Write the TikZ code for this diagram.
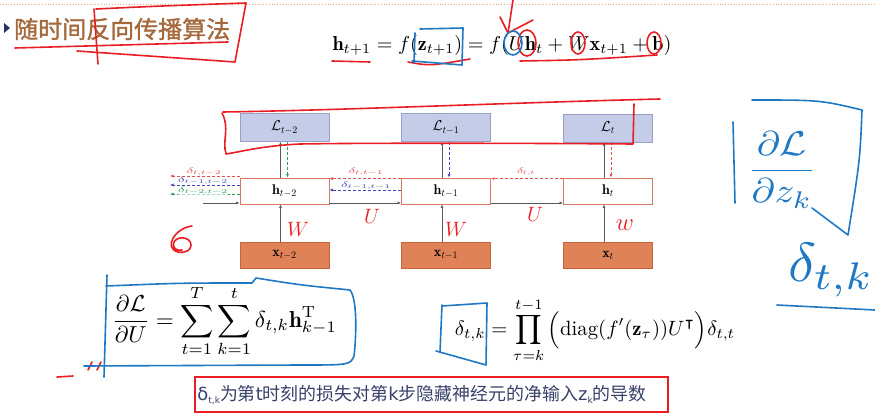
\documentclass[tikz,border=0pt]{standalone}
\usepackage{amsmath,amssymb,graphicx}
\usepackage{fontspec}
\newfontfamily\cjk{Noto Sans CJK SC}
\newfontfamily\cjkb[FakeBold=1.3]{Noto Sans CJK SC}
\newfontfamily\dejavu{DejaVu Sans}
\usetikzlibrary{arrows.meta,calc}
\definecolor{Lfill}{RGB}{196,204,232}
\definecolor{Lborder}{RGB}{150,160,200}
\definecolor{hborder}{RGB}{214,120,100}
\definecolor{xfill}{RGB}{224,130,88}
\definecolor{xborder}{RGB}{200,100,60}
\definecolor{dred}{RGB}{228,80,80}
\definecolor{dblue}{RGB}{70,70,180}
\definecolor{dgreen}{RGB}{40,160,90}
\definecolor{hred}{RGB}{232,30,36}
\definecolor{hblue}{RGB}{30,120,195}
\definecolor{titlecol}{RGB}{165,105,60}
\definecolor{textcol}{RGB}{55,65,105}
\definecolor{navy}{RGB}{40,50,100}
\definecolor{dotcol}{RGB}{235,170,130}
\newcommand\mydl[2]{\resizebox*{#1}{8pt}{$#2$}}
\begin{document}
\begin{tikzpicture}[x=1pt,y=-1pt,
  lbox/.style={draw=Lborder,fill=Lfill,minimum width=89pt,minimum height=28pt,inner sep=0pt,font=\fontsize{14}{15}\selectfont},
  hbox/.style={draw=hborder,fill=white,line width=0.9pt,minimum width=89pt,minimum height=26pt,inner sep=0pt,font=\fontsize{14}{15}\selectfont},
  xbox/.style={draw=xborder,fill=xfill,minimum width=89pt,minimum height=26pt,inner sep=0pt,font=\fontsize{14}{15}\selectfont},
  solidarr/.style={draw=black!65,line width=0.6pt,-{Latex[length=3.5pt,width=3pt]}},
  dasharr/.style={line width=0.6pt,dash pattern=on 3pt off 2pt,-{Latex[length=3.5pt,width=3pt]}},
  dlab/.style={inner sep=0pt,fill=white,fill opacity=0.6,text opacity=1},
  hand/.style={draw=hred,line width=1.6pt,line cap=round,line join=round},
  bhand/.style={draw=hblue,line width=1.6pt,line cap=round,line join=round},
  hw/.style={inner sep=0pt}]
\useasboundingbox (0,0) rectangle (875,417);
% top dotted rule
\draw[dotcol,line width=0.8pt,dotted] (0,4) -- (875,4);
% bullet and title
\fill[navy] (4,23) -- (10,28) -- (4,33) -- cycle;
\node[anchor=west,inner sep=0pt,text=titlecol] (title) at (14,29) {\cjkb\fontsize{24}{25}\selectfont 随时间反向传播算法};
% top equation
\node[inner sep=0pt] (eq) at (502,45) {\resizebox{339pt}{!}{$\mathbf{h}_{t+1} = f(\mathbf{z}_{t+1}) = f(U\mathbf{h}_t + W\mathbf{x}_{t+1} + \mathbf{b})$}};
% boxes
\node[lbox] (L2) at (284.5,127.5) {$\mathcal{L}_{t-2}$};
\node[lbox] (L1) at (446,127.5) {$\mathcal{L}_{t-1}$};
\node[lbox] (L0) at (608,128) {$\mathcal{L}_{t}$};
\node[hbox] (h2) at (284.5,191) {$\mathbf{h}_{t-2}$};
\node[hbox] (h1) at (446,191) {$\mathbf{h}_{t-1}$};
\node[hbox] (h0) at (608,191) {$\mathbf{h}_{t}$};
\node[xbox] (x2) at (284.5,255) {$\mathbf{x}_{t-2}$};
\node[xbox] (x1) at (446,255) {$\mathbf{x}_{t-1}$};
\node[xbox] (x0) at (608,255) {$\mathbf{x}_{t}$};
% vertical solid arrows
\foreach \c in {0,1,2}{
  \draw[solidarr] ([xshift=-4pt]x\c.north) -- ([xshift=-4pt]h\c.south);
  \draw[solidarr] ([xshift=-4pt]h\c.north) -- ([xshift=-4pt]L\c.south);
}
% vertical dashed arrows
\draw[dasharr,dgreen] ([xshift=3pt]L2.south) -- ([xshift=3pt]h2.north);
\draw[dasharr,dblue] ([xshift=3pt]L1.south) -- ([xshift=3pt]h1.north);
\draw[dasharr,dred] ([xshift=3pt]L0.south) -- ([xshift=3pt]h0.north);
% horizontal recurrent arrows
\coordinate (hin) at (203,203);
\draw[solidarr] (hin) -- (h2.west |- hin);
\draw[solidarr] ([yshift=1.5pt]h2.south east) -- ([yshift=1.5pt]h1.south west);
\draw[solidarr] ([yshift=1.5pt]h1.south east) -- ([yshift=1.5pt]h0.south west);
% delta dashed arrows between boxes
\draw[dasharr,dred] ([yshift=-1pt]h0.north west) -- ([yshift=-1pt]h1.north east);
\node[dlab,text=dred] (lbtt) at (526,172) {\mydl{18pt}{\delta_{t,t}}};
\draw[dasharr,dred] ([yshift=-1pt]h1.north west) -- ([yshift=-1pt]h2.north east);
\node[dlab,text=dred] (lbtt1) at (366,172) {\mydl{35pt}{\delta_{t,t-1}}};
\coordinate (bl1) at (360,190);
\draw[dasharr,dblue] (h1.west |- bl1) -- (h2.east |- bl1);
\node[dlab,text=dblue] (lbt1t1) at (366,186) {\mydl{50pt}{\delta_{t-1,t-1}}};
% left deltas
\coordinate (dl1) at (170,176);
\coordinate (dl2) at (170,185);
\coordinate (dl3) at (170,194);
\draw[dasharr,dred] (h2.west |- dl1) -- (dl1);
\draw[dasharr,dblue] (h2.west |- dl2) -- (dl2);
\draw[dasharr,dgreen] (h2.west |- dl3) -- (dl3);
\node[dlab,text=dred] (lbl1) at (204,172) {\mydl{35pt}{\delta_{t,t-2}}};
\node[dlab,text=dblue] (lbl2) at (203,181) {\mydl{50pt}{\delta_{t-1,t-2}}};
\node[dlab,text=dgreen] (lbl3) at (203,190.5) {\mydl{50pt}{\delta_{t-2,t-2}}};
% bottom formulas
\node[inner sep=0pt] (f1) at (224.5,321) {\resizebox{225pt}{!}{$\displaystyle \frac{\partial\mathcal{L}}{\partial U} = \sum_{t=1}^{T}\sum_{k=1}^{t}\delta_{t,k}\mathbf{h}_{k-1}^{\mathrm{T}}$}};
\node[inner sep=0pt] (f2) at (595,330) {\resizebox{280pt}{!}{$\displaystyle \delta_{t,k} = \prod_{\tau=k}^{t-1}\Big(\mathrm{diag}(f'(\mathbf{z}_\tau))U^{\intercal}\Big)\delta_{t,t}$}};
% bottom note
\node[draw=hred,line width=1.5pt,minimum width=473pt,minimum height=35pt,inner sep=0pt] (notebox) at (431.5,394.5) {};
\node[inner sep=0pt,text=textcol] (note) at (422,395) {\resizebox{449pt}{!}{{\dejavu δ}\raisebox{-2pt}{\dejavu\tiny t,k}{\cjk 为第}{\dejavu t}{\cjk 时刻的损失对第}{\dejavu k}{\cjk 步隐藏神经元的净输入}{\dejavu z}\raisebox{-2pt}{\dejavu\tiny k}{\cjk 的导数}}};
% ---- red handwriting ----
\draw[hand] (15,48) -- (228,42);
\draw[hand] (94,9) -- (98,64);
\draw[hand] (96,9) .. controls (160,6) .. (246,3) -- (235,62) -- (77,51);
\draw[hand] (332,61) -- (370,62);
\draw[hand] (408,62) .. controls (430,66) .. (470,59);
\draw[hand] (513,0) -- (508,33);
\draw[hand] (500,17) -- (508,33) -- (533,20);
\draw[hand] (527,43) ellipse (9pt and 13pt);
\draw[hand] (578,43) ellipse (7pt and 11pt);
\draw[hand] (654,43) ellipse (7pt and 11pt);
\draw[hand] (520,61) .. controls (580,60) .. (657,55);
\draw[hand] (223,112) .. controls (350,110) and (500,103) .. (660,99);
\draw[hand] (634,104) -- (633,144) .. controls (500,143) and (350,143) .. (300,144) .. controls (260,146) and (240,152) .. (226,154) .. controls (222,140) and (230,128) .. (222,113);
\draw[hand] (192,226) .. controls (175,228) and (163,248) .. (178,252) .. controls (195,255) and (195,236) .. (180,238) .. controls (170,240) and (172,252) .. (182,250);
\node[hw,text=hred] (w2) at (298,229) {\fontsize{22}{22}\selectfont$W$};
\node[hw,text=hred] (w1) at (456,229) {\fontsize{22}{22}\selectfont$W$};
\node[hw,text=hred] (w0) at (625,225) {\fontsize{24}{24}\selectfont$w$};
\node[hw,text=hred] (u1) at (372,216) {\fontsize{22}{22}\selectfont$U$};
\node[hw,text=hred] (u0) at (535,214) {\fontsize{22}{22}\selectfont$U$};
\draw[hand] (57,377) -- (73,376);
\draw[hand] (88,370) -- (92,362);
\draw[hand] (97,370) -- (101,362);
% ---- blue handwriting ----
\draw[bhand] (415,33) -- (414,63);
\draw[bhand] (420,29) -- (463,28) -- (462,65) -- (412,61);
\draw[bhand] (513,43) ellipse (9pt and 12pt);
\draw[bhand] (107,275) -- (104,377);
\draw[bhand] (106,286) .. controls (180,283) .. (252,283) -- (256,278) .. controls (300,285) .. (350,290) .. controls (358,300) and (356,340) .. (354,356) .. controls (350,365) .. (300,365) -- (84,366);
\draw[bhand] (442,305) -- (440,352);
\draw[bhand] (442,306) -- (487,303) -- (486,365) -- (436,351);
\draw[bhand] (752,100) .. controls (820,100) .. (862,110) .. controls (860,160) .. (848,235) -- (812,208);
\draw[bhand] (733,122) -- (735,203);
\node[hw,text=hblue] (frac) at (782,170) {\resizebox*{70pt}{76pt}{$\dfrac{\partial\mathcal{L}}{\partial z_k}$}};
\node[hw,text=hblue] (dtk) at (831,270) {\resizebox*{86pt}{54pt}{$\delta_{t,k}$}};
\draw[bhand] (777,305) -- (875,310);
\end{tikzpicture}
\end{document}
